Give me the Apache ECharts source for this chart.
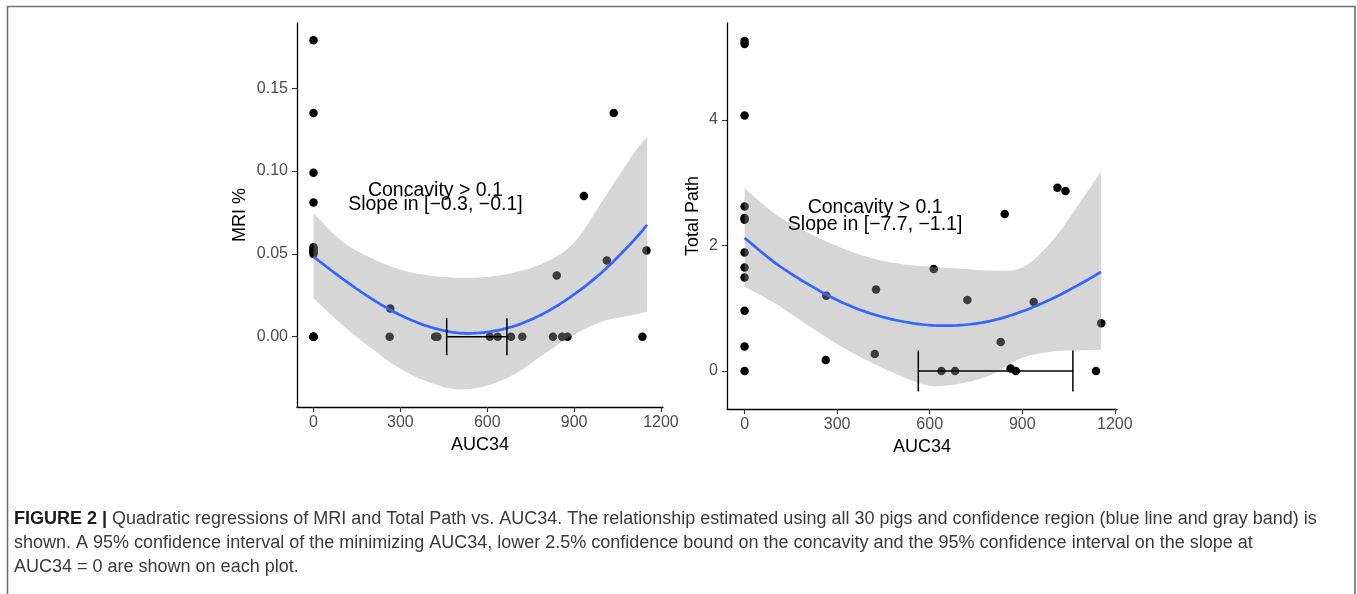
<!DOCTYPE html>
<html>
<head>
<meta charset="utf-8">
<script src="https://cdn.jsdelivr.net/npm/echarts@6/dist/echarts.min.js"></script>
<style>
html,body{margin:0;padding:0;background:#fff;}
#chart{width:1357px;height:594px;}
</style>
</head>
<body>
<div id="chart"></div>
<script>
// ---------- data ----------
const X_TICKS = [0, 300, 600, 900, 1200];
const MRI_TICKS = [0, 0.05, 0.10, 0.15];
const PATH_TICKS = [0, 2, 4];

// Left panel: MRI %
const mriAUC = [0,0,0,0,0,0,0,0,0,0,0,0, 265,263,420,428,609,636,682,721,827,859,877,840,1013,1150,1136,1037,934];
const mriVal = [0.179,0.135,0.099,0.081,0.054,0.053,0.052,0.051,0.050,0,0,0, 0.017,0,0,0,0,0,0,0,0,0,0,0.037,0.046,0.052,0,0.135,0.085];
const mriFitX   = [0, 100, 200, 300, 400, 500, 600, 700, 800, 900, 1000, 1100, 1152];
const mriFit    = [0.0483, 0.0350, 0.0230, 0.0130, 0.0060, 0.0023, 0.0028, 0.0068, 0.0145, 0.0255, 0.0395, 0.0570, 0.0675];
const mriUpper  = [0.0745, 0.0574, 0.0474, 0.0405, 0.0369, 0.0356, 0.0361, 0.0390, 0.0449, 0.0568, 0.0826, 0.1092, 0.1208];
const mriLower  = [0.0232, 0.0070, -0.0070, -0.0194, -0.0276, -0.0318, -0.0295, -0.0220, -0.0100, 0.0013, 0.0093, 0.0130, 0.0151];
const mriMinCI  = [460, 668];   // 95% CI of minimizing AUC34
const mriAnnot  = ['Concavity > 0.1', 'Slope in [\u22120.3, \u22120.1]'];

// Right panel: Total Path
const pathAUC = [0,0,0,0,0,0,0,0,0,0,0,0, 265,263,426,422,613,722,937,830,638,682,862,879,1139,1156,843,1014,1040];
const pathVal = [5.26,5.21,4.07,2.62,2.44,2.41,1.89,1.65,1.49,0.96,0.39,0, 1.20,0.175,1.30,0.27,1.625,1.13,1.10,0.46,0,0,0.04,0,0,0.76,2.50,2.92,2.87];
const pathFitX  = [0, 100, 200, 300, 400, 500, 600, 700, 800, 900, 1000, 1100, 1155];
const pathFit   = [2.12, 1.72, 1.40, 1.13, 0.93, 0.80, 0.73, 0.73, 0.80, 0.95, 1.16, 1.42, 1.58];
const pathUpper = [2.91, 2.50, 2.22, 1.99, 1.815, 1.71, 1.66, 1.63, 1.60, 1.65, 2.09, 2.78, 3.18];
const pathLower = [1.344, 1.075, 0.745, 0.43, 0.16, -0.065, -0.235, -0.20, -0.06, 0.21, 0.31, 0.33, 0.335];
const pathMinCI = [563, 1064];
const pathAnnot = ['Concavity > 0.1', 'Slope in [\u22127.7, \u22121.1]'];

// ---------- styling ----------
const FONT = '"Liberation Sans", Arial, Helvetica, sans-serif';
const zip = (xs, ys) => xs.map((x, i) => [x, ys[i]]);

// Catmull-Rom smoothing of already-projected pixel points (rendering only)
function spline(pts, steps) {
  const out = [];
  const n = pts.length;
  for (let i = 0; i < n - 1; i++) {
    const p0 = pts[Math.max(i - 1, 0)], p1 = pts[i], p2 = pts[i + 1], p3 = pts[Math.min(i + 2, n - 1)];
    const c1 = [p1[0] + (p2[0] - p0[0]) / 6, p1[1] + (p2[1] - p0[1]) / 6];
    const c2 = [p2[0] - (p3[0] - p1[0]) / 6, p2[1] - (p3[1] - p1[1]) / 6];
    for (let s = 0; s < steps; s++) {
      const t = s / steps, u = 1 - t;
      out.push([
        u*u*u*p1[0] + 3*u*u*t*c1[0] + 3*u*t*t*c2[0] + t*t*t*p2[0],
        u*u*u*p1[1] + 3*u*u*t*c1[1] + 3*u*t*t*c2[1] + t*t*t*p2[1]
      ]);
    }
  }
  out.push(pts[n - 1]);
  return out;
}

function xAxisCfg(gi, gap) {
  return {
    type: 'value', gridIndex: gi, min: -57, max: 1207,
    name: 'AUC34', nameLocation: 'middle', nameGap: gap,
    nameTextStyle: {color: '#000', fontSize: 18, fontFamily: FONT},
    axisLine: {show: true, onZero: false, lineStyle: {color: '#000', width: 1.3}},
    axisTick: {show: true, customValues: X_TICKS, length: 5, lineStyle: {color: '#333', width: 1.1}},
    axisLabel: {customValues: X_TICKS, color: '#4d4d4d', fontSize: 16, fontFamily: FONT, margin: 8,
                formatter: v => String(v)},
    splitLine: {show: false}
  };
}
function yAxisCfg(gi, name, gap, min, max, ticks, fmt) {
  return {
    type: 'value', gridIndex: gi, min: min, max: max,
    name: name, nameLocation: 'middle', nameGap: gap,
    nameTextStyle: {color: '#000', fontSize: 18, fontFamily: FONT},
    axisLine: {show: true, onZero: false, lineStyle: {color: '#000', width: 1.3}},
    axisTick: {show: true, customValues: ticks, length: 5, lineStyle: {color: '#333', width: 1.1}},
    axisLabel: {customValues: ticks, color: '#4d4d4d', fontSize: 16, fontFamily: FONT, margin: 9, formatter: fmt},
    splitLine: {show: false}
  };
}

function bandSeries(gi, xs, lo, hi) {
  return {type: 'custom', xAxisIndex: gi, yAxisIndex: gi, data: [[xs[0], lo[0]]], z: 3, silent: true,
    renderItem: (params, api) => {
      const up = spline(xs.map((x, i) => api.coord([x, hi[i]])), 12);
      const dn = spline(xs.map((x, i) => api.coord([x, lo[i]])), 12).reverse();
      return {type: 'polygon', shape: {points: up.concat(dn)},
              style: {fill: 'rgba(153,153,153,0.4)', stroke: null}};
    }};
}
function fitSeries(gi, xs, ys) {
  return {type: 'custom', xAxisIndex: gi, yAxisIndex: gi, data: [[xs[0], ys[0]]], z: 4, silent: true,
    renderItem: (params, api) => {
      const pts = spline(xs.map((x, i) => api.coord([x, ys[i]])), 12);
      return {type: 'polyline', shape: {points: pts},
              style: {stroke: '#3366FF', lineWidth: 2.7, fill: null, lineJoin: 'round'}};
    }};
}
function scatterSeries(gi, xs, ys) {
  return {type: 'scatter', xAxisIndex: gi, yAxisIndex: gi, data: zip(xs, ys), symbolSize: 8.5,
          itemStyle: {color: '#000', opacity: 1}, z: 1, silent: true};
}
function errSeries(gi, ci, capHalfPx) {
  return {type: 'custom', xAxisIndex: gi, yAxisIndex: gi, data: [[ci[0], ci[1], 0]], encode: {x: [0, 1], y: 2}, z: 5, silent: true,
    renderItem: (params, api) => {
      const a = api.coord([api.value(0), api.value(2)]);
      const b = api.coord([api.value(1), api.value(2)]);
      const st = {stroke: '#000', lineWidth: 1.5};
      return {type: 'group', children: [
        {type: 'line', shape: {x1: a[0], y1: a[1], x2: b[0], y2: b[1]}, style: st},
        {type: 'line', shape: {x1: a[0], y1: a[1] - capHalfPx, x2: a[0], y2: a[1] + capHalfPx}, style: st},
        {type: 'line', shape: {x1: b[0], y1: b[1] - capHalfPx, x2: b[0], y2: b[1] + capHalfPx}, style: st}
      ]};
    }};
}
function annotSeries(gi, texts, pos) {
  return {type: 'custom', xAxisIndex: gi, yAxisIndex: gi, data: pos, z: 6, silent: true, clip: false,
    renderItem: (params, api) => {
      const p = api.coord([api.value(0), api.value(1)]);
      return {type: 'text', x: p[0], y: p[1], style: {text: texts[params.dataIndex], fill: '#000',
              font: '19.5px ' + FONT, textAlign: 'center', textVerticalAlign: 'middle'}};
    }};
}

const chart = echarts.init(document.getElementById('chart'), null, {renderer: 'canvas'});
chart.setOption({
  animation: false,
  backgroundColor: '#fff',
  grid: [
    {left: 297, top: 23, width: 366, height: 384},
    {left: 727, top: 23, width: 390, height: 386}
  ],
  xAxis: [xAxisCfg(0, 28), xAxisCfg(1, 26)],
  yAxis: [
    yAxisCfg(0, 'MRI %', 48, -0.04245, 0.1894, MRI_TICKS, v => v.toFixed(2)),
    yAxisCfg(1, 'Total Path', 25, -0.606, 5.546, PATH_TICKS, v => String(v))
  ],
  series: [
    scatterSeries(0, mriAUC, mriVal),
    bandSeries(0, mriFitX, mriLower, mriUpper),
    fitSeries(0, mriFitX, mriFit),
    errSeries(0, mriMinCI, 18.5),
    annotSeries(0, mriAnnot, [[421, 0.0883], [421, 0.0795]]),

    scatterSeries(1, pathAUC, pathVal),
    bandSeries(1, pathFitX, pathLower, pathUpper),
    fitSeries(1, pathFitX, pathFit),
    errSeries(1, pathMinCI, 20.5),
    annotSeries(1, pathAnnot, [[423, 2.61], [423, 2.34]])
  ],
  graphic: [
    {type: 'polyline', silent: true, shape: {points: [[7.5, 600], [7.5, 6.5], [1355, 6.5], [1355, 600]]},
     style: {stroke: '#707070', lineWidth: 1.6, fill: null}},
    {type: 'text', left: 14, top: 507, silent: true, style: {
      text: '{b|FIGURE 2 |} Quadratic regressions of MRI and Total Path vs. AUC34. The relationship estimated using all 30 pigs and confidence region (blue line and gray band) is\n' +
            'shown. A 95% confidence interval of the minimizing AUC34, lower 2.5% confidence bound on the concavity and the 95% confidence interval on the slope at\n' +
            'AUC34 = 0 are shown on each plot.',
      fill: '#3a3a3a', font: '18px ' + FONT, lineHeight: 24,
      rich: {b: {fontWeight: 'bold', fill: '#1a1a1a', fontSize: 18, fontFamily: FONT, lineHeight: 24}}
    }}
  ]
});
</script>
</body>
</html>
